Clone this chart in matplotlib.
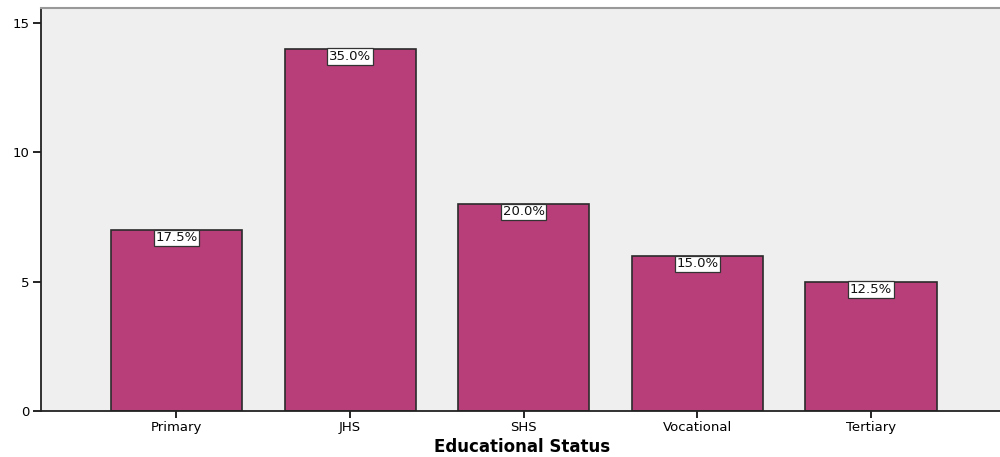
import numpy as np
import matplotlib.pyplot as plt

# dati
categorie = ['Primary', 'JHS', 'SHS', 'Vocational', 'Tertiary']
conteggi = [7, 14, 8, 6, 5]
percentuali = ['17.5%', '35.0%', '20.0%', '15.0%', '12.5%']

plt.rcParams['font.family'] = 'DejaVu Sans'

fig = plt.figure(figsize=(10, 4.57), dpi=100)
ax = fig.add_axes([0.041, 0.1007, 0.962, 0.882])
ax.set_facecolor('#EFEFEF')

x = np.arange(len(categorie))
ax.bar(x, conteggi, width=0.755, color='#B83E7A', edgecolor='#2b2b2b', linewidth=1.2, zorder=2)

for xi, yi, lab in zip(x, conteggi, percentuali):
    ax.text(xi, yi - 0.31, lab, ha='center', va='center', fontsize=9.5, color='#111111',
            bbox=dict(boxstyle='square,pad=0.12', facecolor='white', edgecolor='#333333', linewidth=0.9),
            zorder=3)

ax.set_xlim(-0.78, 4.76)
ax.set_ylim(0, 15.57)
ax.set_yticks([0, 5, 10, 15])
ax.set_xticks(x)
ax.set_xticklabels(categorie)
ax.tick_params(axis='y', labelsize=9.5, length=6, width=1.2, pad=2)
ax.tick_params(axis='x', labelsize=9.5, length=5, width=1.2, pad=2)

ax.spines['left'].set_color('#222222')
ax.spines['left'].set_linewidth(1.3)
ax.spines['bottom'].set_color('#222222')
ax.spines['bottom'].set_linewidth(1.3)
ax.spines['top'].set_color('#999999')
ax.spines['top'].set_linewidth(1.5)
ax.spines['right'].set_visible(False)

ax.set_xlabel('Educational Status', fontsize=12, fontweight='bold', labelpad=3)

plt.savefig('out.png', dpi=100)
